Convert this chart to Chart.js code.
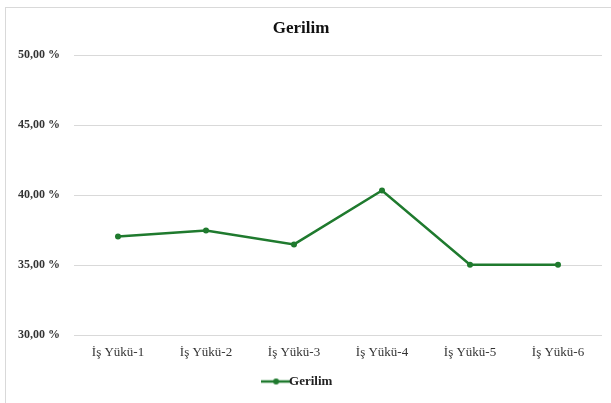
<!DOCTYPE html>
<html>
<head>
<meta charset="utf-8">
<script src="https://cdn.jsdelivr.net/npm/chart.js@4/dist/chart.umd.min.js"></script>
<style>
  html,body{margin:0;padding:0;background:#fff;}
  #frame{position:absolute;left:5px;top:7px;width:640px;height:420px;border:1px solid #d9d9d9;box-sizing:border-box;}
  #wrap{position:absolute;left:0;top:0;width:611px;height:403px;}
</style>
</head>
<body>
<div id="frame"></div>
<div id="wrap"><canvas id="c"></canvas></div>
<script>
// Veriler
const categories = ['İş Yükü-1','İş Yükü-2','İş Yükü-3','İş Yükü-4','İş Yükü-5','İş Yükü-6'];
const gerilim    = [0.3706, 0.3750, 0.3650, 0.4035, 0.3505, 0.3505];
const seriesName = 'Gerilim';

const GREEN = '#1f7a2e';
const SERIF = '"Liberation Serif", "Times New Roman", serif';

// Legend-Symbol: Linie mit Punkt
function legendMarker(){
  const cv = document.createElement('canvas');
  cv.width = 30; cv.height = 10;
  const g = cv.getContext('2d');
  g.strokeStyle = GREEN; g.lineWidth = 2.5;
  g.beginPath(); g.moveTo(0,5); g.lineTo(30,5); g.stroke();
  g.fillStyle = GREEN;
  g.beginPath(); g.arc(15,5,3,0,Math.PI*2); g.fill();
  return cv;
}
const marker = legendMarker();

const pct = v => (v*100).toFixed(2).replace('.', ',') + ' %';

new Chart(document.getElementById('c'), {
  type: 'line',
  data: {
    labels: categories,
    datasets: [{
      label: seriesName,
      data: gerilim,
      borderColor: GREEN,
      backgroundColor: GREEN,
      borderWidth: 2.5,
      pointRadius: 3,
      pointBackgroundColor: GREEN,
      pointBorderWidth: 0,
      tension: 0
    }]
  },
  options: {
    responsive: true,
    maintainAspectRatio: false,
    animation: false,
    layout: { padding: { left: 0, right: 9, top: 0, bottom: 5 } },
    plugins: {
      title: {
        display: true,
        text: 'Gerilim',
        color: '#111',
        font: { family: SERIF, size: 17, weight: 'bold' },
        padding: { top: 18, bottom: 17 }
      },
      legend: {
        position: 'bottom',
        labels: {
          color: '#222',
          font: { family: SERIF, size: 13, weight: 'bold' },
          usePointStyle: true,
          boxWidth: 30,
          boxHeight: 10,
          padding: 6,
          generateLabels: chart => [{
            text: seriesName,
            pointStyle: marker,
            fillStyle: GREEN,
            strokeStyle: GREEN,
            lineWidth: 0,
            datasetIndex: 0,
            fontColor: '#222'
          }]
        }
      },
      tooltip: { enabled: false }
    },
    scales: {
      x: {
        offset: true,
        grid: { display: false, drawTicks: false },
        border: { display: false },
        ticks: {
          color: '#333',
          padding: 9,
          maxRotation: 0,
          font: { family: SERIF, size: 13 }
        }
      },
      y: {
        min: 0.30,
        max: 0.50,
        afterFit: s => { s.width = 74; },
        grid: { color: '#d9d9d9', lineWidth: 1, drawTicks: false },
        border: { display: false },
        ticks: {
          stepSize: 0.05,
          padding: 14,
          color: '#333',
          font: { family: SERIF, size: 12, weight: 'bold' },
          callback: v => pct(v)
        }
      }
    }
  }
});
</script>
</body>
</html>
